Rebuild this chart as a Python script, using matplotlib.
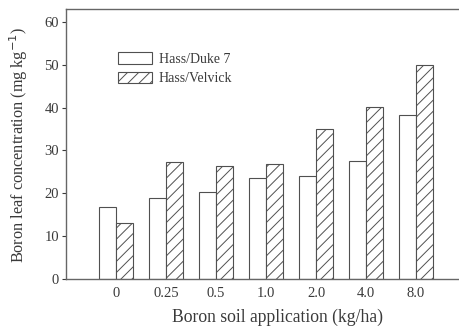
import matplotlib
matplotlib.use("Agg")
import matplotlib.pyplot as plt
import numpy as np

categories = ["0", "0.25", "0.5", "1.0", "2.0", "4.0", "8.0"]
duke7 = [16.8, 18.9, 20.2, 23.5, 24.0, 27.5, 38.3]
velvick = [13.1, 27.3, 26.4, 26.8, 34.9, 40.2, 50.0]
series_names = ["Hass/Duke 7", "Hass/Velvick"]
yticks = [0, 10, 20, 30, 40, 50, 60]

plt.rcParams['font.family'] = ['Liberation Serif', 'DejaVu Serif']
plt.rcParams['hatch.linewidth'] = 0.7
plt.rcParams['hatch.color'] = '#555555'

edge = '#505050'
txt = '#3a3a3a'

fig = plt.figure(figsize=(4.6, 3.27), dpi=100)
ax = fig.add_axes([0.1435, 0.1468, 0.8565, 0.8257])

x = np.arange(len(categories))
w = 0.34
ax.bar(x - w / 2, duke7, w, color='white', edgecolor=edge, linewidth=0.8,
       label=series_names[0])
ax.bar(x + w / 2, velvick, w, color='white', edgecolor=edge, linewidth=0.8,
       hatch='///', label=series_names[1])

ax.set_xlim(-1.0, 6.88)
ax.set_ylim(0, 63)
ax.set_xticks(x)
ax.set_xticklabels(categories)
ax.set_yticks(yticks)
ax.tick_params(axis='x', length=0, pad=6, labelsize=10.5, colors=txt)
ax.tick_params(axis='y', length=3, width=0.8, direction='out', labelsize=10.5,
               colors=txt, pad=2)
for s in ['left', 'bottom', 'top']:
    ax.spines[s].set_color('#666666')
    ax.spines[s].set_linewidth(1.0)
ax.spines['right'].set_visible(False)

ax.set_xlabel("Boron soil application (kg/ha)", fontsize=12.7, color=txt)
ax.xaxis.set_label_coords(0.538, -0.111)
ax.set_ylabel("Boron leaf concentration (mg kg$^{-1}$)", fontsize=11.7, color=txt)
ax.yaxis.set_label_coords(-0.092, 0.496)

leg = ax.legend(loc='upper left', bbox_to_anchor=(0.107, 0.875), frameon=False,
                fontsize=10, handlelength=2.45, handleheight=0.9,
                labelspacing=0.4, handletextpad=0.5, labelcolor=txt,
                borderpad=0.2)

fig.savefig("out.png", dpi=100)
